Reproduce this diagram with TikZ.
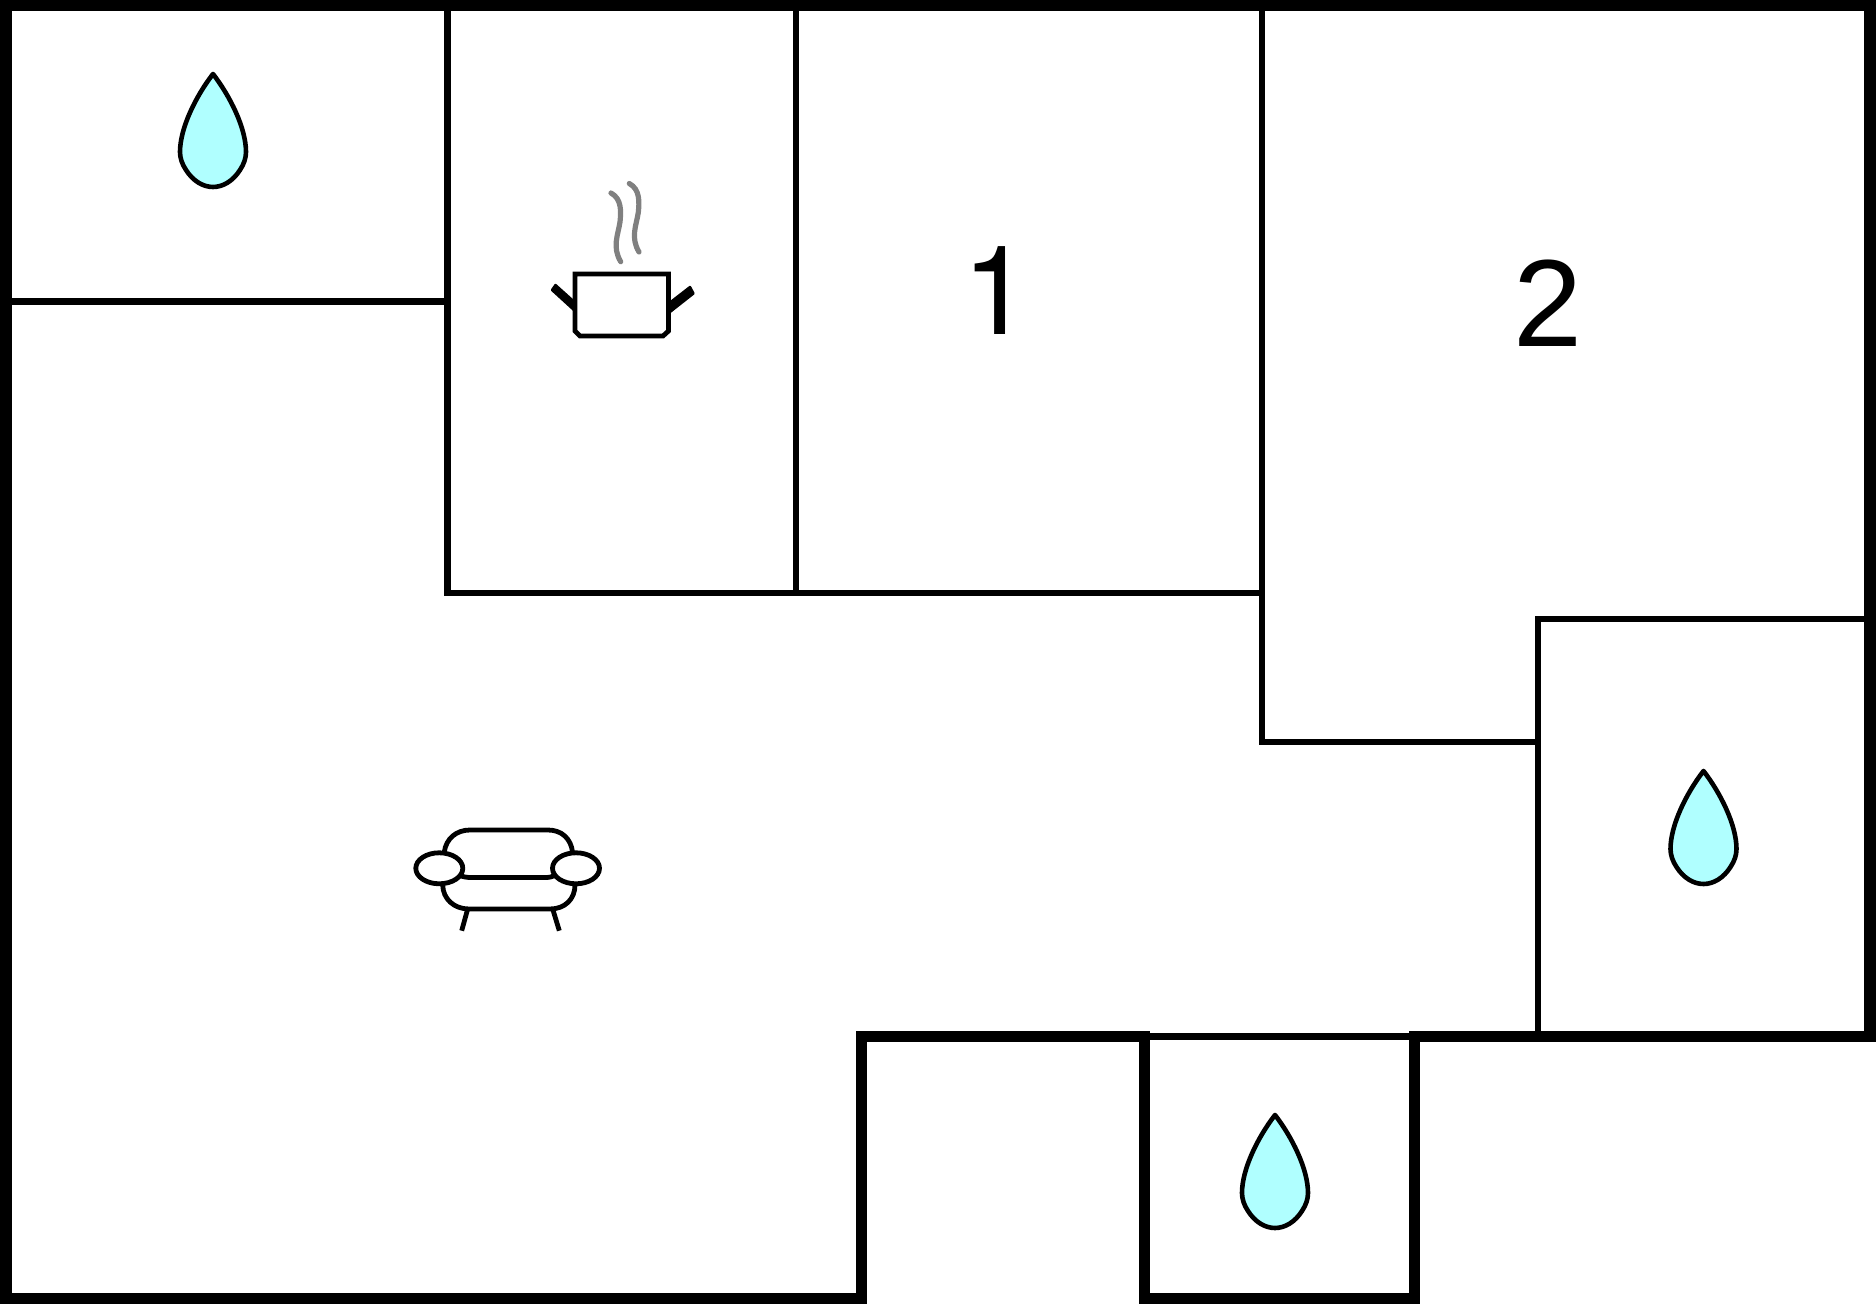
\documentclass[tikz,border=0pt]{standalone}
\usepackage{fontspec}
\setmainfont{TeX Gyre Heros}
\newfontfamily\arialfont{Liberation Sans}
\definecolor{dropfill}{HTML}{B0FFFF}
\definecolor{steamgrey}{HTML}{808080}
\tikzset{
  thickwall/.style={line width=5.8pt,line join=miter},
  thinwall/.style={line width=3.1pt,line join=miter},
  iconline/.style={line width=2.4pt,line join=miter},
  steamline/.style={line width=2.6pt,color=steamgrey,line cap=round},
  handle/.style={fill=black,draw=black,line width=1.2pt,line join=round},
  roomlabel/.style={anchor=base,inner sep=0pt,font=\fontsize{62pt}{62pt}\selectfont},
  dropshape/.pic={
    \draw[line width=2.3pt,fill=dropfill,line join=round]
      (0,0) .. controls (-17,22) and (-33,54) .. (-33,78)
      .. controls (-33,84) and (-31,90) .. (-27,96)
      .. controls (-20,107) and (-10,113) .. (0,113)
      .. controls (10,113) and (20,107) .. (27,96)
      .. controls (31,90) and (33,84) .. (33,78)
      .. controls (33,54) and (17,22) .. (0,0) -- cycle;
  }
}
\begin{document}
\begin{tikzpicture}[x=0.5pt,y=-0.5pt]
\path[use as bounding box,fill=white] (0,0) rectangle (1876,1304);
% thin partition walls
\draw[thinwall] (447.5,6) -- (447.5,593) -- (1262,593);
\draw[thinwall] (796,6) -- (796,593);
\draw[thinwall] (6,301.5) -- (447.5,301.5);
\draw[thinwall] (1262,6) -- (1262,741.7) -- (1537.7,741.7);
\draw[thinwall] (1537.7,1036) -- (1537.7,618.7) -- (1870,618.7);
\draw[thinwall] (1144.5,1036.5) -- (1414.5,1036.5);
% outer thick wall
\draw[thickwall] (5.7,5.7) -- (1870,5.7) -- (1870,1036.5) -- (1414.5,1036.5)
  -- (1414.5,1298.5) -- (1144.5,1298.5) -- (1144.5,1036.5) -- (861.5,1036.5)
  -- (861.5,1298.5) -- (5.7,1298.5) -- cycle;
% drops
\pic at (213,74) {dropshape};
\pic at (1703.5,771) {dropshape};
\pic at (1275,1115) {dropshape};
% pot
\draw[handle] (552,290) -- (555.5,285) -- (575,302.5) -- (575,311) -- cycle;
\draw[handle] (690,287) -- (693.5,293.5) -- (670,312) -- (670,302.5) -- cycle;
\draw[iconline,fill=white] (575,274) -- (668.5,274) -- (668.5,331) -- (663,336) -- (580,336) -- (575,331) -- cycle;
\draw[steamline] (611,193) .. controls (622,199) and (621,212) .. (620,222)
  .. controls (618,235) and (612,247) .. (620.7,261.7);
\draw[steamline] (629.3,183.5) .. controls (640.3,189.5) and (639.3,202.5) .. (638.3,212.5)
  .. controls (636.3,225.5) and (630.3,237.5) .. (639,252);
% sofa
\draw[iconline] (444.3,852) .. controls (446,839) and (456,830) .. (470,830) -- (548,830)
  .. controls (562,830) and (571,839) .. (572.5,852);
\draw[iconline] (442.7,885) .. controls (443,899) and (454,909) .. (469,909) -- (550,909)
  .. controls (565,909) and (575,899) .. (575,885);
\draw[iconline] (459,875) .. controls (463,877) and (467,877.5) .. (471,877.5) -- (545,877.5)
  .. controls (549,877.5) and (552,877) .. (555,875.5);
\draw[iconline] (439.3,868.3) ellipse (23.5 and 15.5);
\draw[iconline] (576,868.3) ellipse (23.5 and 15.5);
\draw[iconline] (467.7,909) -- (461.7,930.7);
\draw[iconline] (552.7,909) -- (559.3,930.7);
% labels
\node[roomlabel] (one) at (997,334.5) {1};
\node[roomlabel] (two) at (1548,347) {\arialfont 2};
\end{tikzpicture}
\end{document}
